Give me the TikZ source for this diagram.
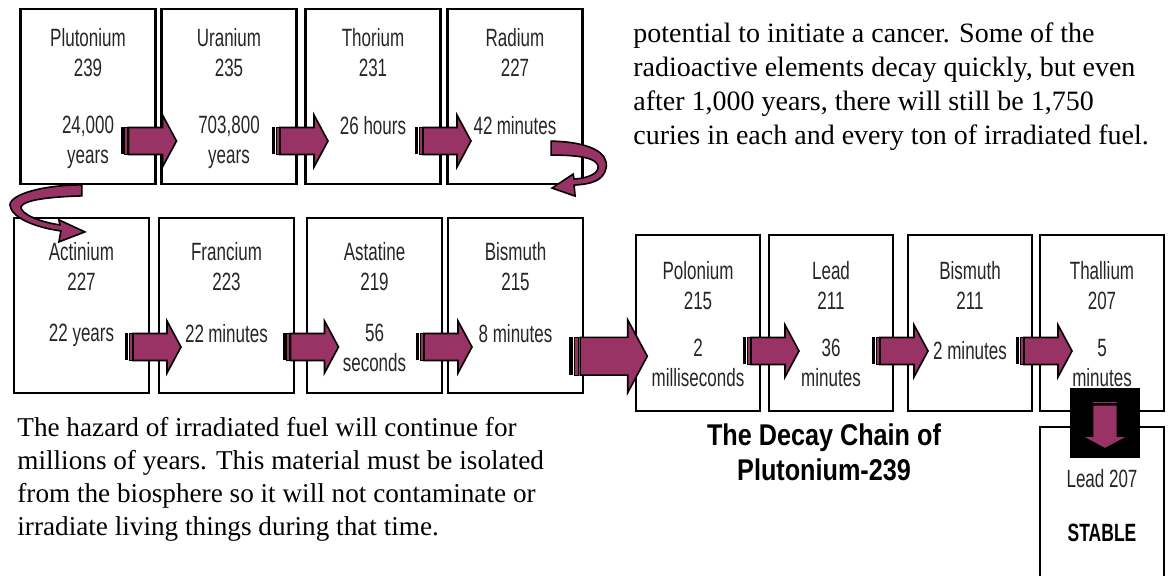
\documentclass[tikz,border=0pt]{standalone}
\usepackage{fontspec}
\setmainfont{Liberation Serif}
\newfontfamily\narrowsans{Liberation Sans}[FakeStretch=0.68]
\newfontfamily\heavysans{Liberation Sans}[FakeStretch=0.84]
\newfontfamily\stablesans{Liberation Sans}[FakeStretch=0.7]
\usepackage{tikz}
\usetikzlibrary{positioning,
calc}
\definecolor{plum}{HTML}{993366}

% block arrow sitting across the gap of two cells
\newcommand\decayhop[4][1]{%
  \pic[scale=#1] at ($(#2.east)!.5!(#3.west)+(#4)$) {hop};}

\begin{document}
\begin{tikzpicture}[
x=0.5pt, y=-0.5pt,
cell/.style={
draw,
line width=1.1pt,
minimum width=67.5pt,
minimum height=87.5pt,
inner sep=0pt
},
pcell/.style={
cell,
minimum width=62pt,
minimum height=88pt
},
elem/.style={
anchor=north,
inner sep=0pt,
align=center,
text=black!85,
font=\narrowsans\fontsize{12.5}{15}\selectfont
},
note/.style={
anchor=north west,
inner sep=0pt,
align=left,
font=\fontsize{14}{17}\selectfont
},
heading/.style={
anchor=north,
inner sep=0pt,
align=center,
font=\heavysans\bfseries\fontsize{15}{17.5}\selectfont
},
curl/.style={fill=plum, draw=black, line width=0.8pt},
hop/.pic={
\fill[black] (-29,-13.5) rectangle (-26,13.5);
\filldraw[fill=plum, draw=black, line width=0.5pt] (-25,-13.5) rectangle (-22,13.5);
\filldraw[fill=plum, draw=black, line width=0.8pt]
  (-21,-13.5) -- (13,-13.5) -- (13,-26) -- (27,0) -- (13,26) -- (13,13.5) -- (-21,13.5) -- cycle;
}
]

\useasboundingbox (0,0) rectangle (1172,576);
\clip (0,0) rectangle (1172,576);

% Top row
\node[cell] (pu) at (88,96.5) {};
\node[cell, right=1.9pt of pu] (u) {};
\node[cell, right=3.4pt of u] (th) {};
\node[cell, right=2.4pt of th] (ra) {};

\node[elem, below=10pt of pu.north] {Plutonium\\239};
\node[elem, below=10pt of u.north] {Uranium\\235};
\node[elem, below=10pt of th.north] {Thorium\\231};
\node[elem, below=10pt of ra.north] {Radium\\227};

\node[elem, below=54pt of pu.north] {24,000\\years};
\node[elem, below=54pt of u.north] {703,800\\years};
\node[elem, below=54pt of th.north] {26 hours};
\node[elem, below=54pt of ra.north] {42\,minutes};

% Bottom row
\node[cell] (ac) at (81.5,305.5) {};
\node[cell, right=3.9pt of ac] (fr) {};
\node[cell, right=5.4pt of fr] (ast) {};
\node[cell, right=1.9pt of ast] (bi) {};

\node[elem, below=12.5pt of ac.north] {Actinium\\227};
\node[elem, below=12.5pt of fr.north] {Francium\\223};
\node[elem, below=12.5pt of ast.north] {Astatine\\219};
\node[elem, below=12.5pt of bi.north] {Bismuth\\215};

\node[elem, below=53.5pt of ac.north] {22 years};
\node[elem, below=53.5pt of fr.north] {22\,minutes};
\node[elem, below=53.5pt of ast.north] {56\\seconds};
\node[elem, below=53.5pt of bi.north] {8 minutes};

% Right row
\node[pcell] (po) at (698,323) {};
\node[pcell, right=3.4pt of po] (pb) {};
\node[pcell, right=6.4pt of pb] (bis) {};
\node[pcell, right=2.9pt of bis] (tl) {};
\node[pcell, below=6.9pt of tl, minimum height=95pt] (lead) {};

\node[elem, below=13.5pt of po.north] {Polonium\\215};
\node[elem, below=13.5pt of pb.north] {Lead\\211};
\node[elem, below=13.5pt of bis.north] {Bismuth\\211};
\node[elem, below=13.5pt of tl.north] {Thallium\\207};

\node[elem, below=52.5pt of po.north] {2\\milliseconds};
\node[elem, below=52.5pt of pb.north] {36\\minutes};
\node[elem, below=53.5pt of bis.north] {2 minutes};
\node[elem, below=52.5pt of tl.north] {5\\minutes};

% Stable end
\node[elem, below=21.5pt of lead.north] {Lead 207};
\node[heading, below=49pt of lead.north,
font=\stablesans\bfseries\fontsize{12.5}{15}\selectfont] {STABLE};
\node[fill=black, minimum size=35pt, inner sep=0pt] (drop) at ($(tl.south)+(3,11)$) {};
\pic[rotate=-90, scale=0.92] at ($(drop.center)+(0,1)$) {hop};

% Connections
\decayhop{pu}{u}{-9,44.5}
\decayhop{u}{th}{0,44.5}
\decayhop{th}{ra}{0,44.5}
\decayhop{ac}{fr}{0,41.5}
\decayhop{fr}{ast}{11,41.5}
\decayhop{ast}{bi}{0,41.5}
\decayhop[1.4]{bi}{po}{0,42}
\decayhop{po}{pb}{7.5,28}
\decayhop{pb}{bis}{0.5,28}
\decayhop{bis}{tl}{9,28}

% Wrap from Radium down to Actinium
\draw[curl, shift={(ra.south east)}]
  (-32.5,-44) .. controls (7.5,-43) and (25.5,-32) .. (22.5,-17)
  .. controls (19.5,-4) and (7.5,-1) .. (-9.5,0) -- (-8.5,11) -- (-31.5,3)
  -- (-10.5,-11) -- (-9.5,-6) .. controls (5.5,-7) and (15.5,-12) .. (14.5,-19)
  .. controls (12.5,-27) and (-2.5,-30) .. (-32.5,-30) -- cycle;
\draw[curl, shift={(ac.north west)}]
  (69,-32) .. controls (31,-32) and (-2,-23) .. (-3,-12)
  .. controls (-2,1) and (24,11) .. (48,14) -- (46,25) -- (72,15) -- (46,3)
  -- (47,8) .. controls (26,5) and (8,-3) .. (8,-10)
  .. controls (11,-17) and (36,-20) .. (69,-21) -- cycle;

% Texts
\node[heading] (title) at (824,423) {The Decay Chain of\\Plutonium-239};
\node[note] (warn) at (633,22) {potential to initiate a cancer. Some of the\\
radioactive elements decay quickly, but even\\
after 1,000 years, there will still be 1,750\\
curies in each and every ton of irradiated fuel.};
\node[note, font=\fontsize{13.6}{16.5}\selectfont] (hazard) at (17,417) {The hazard of irradiated fuel will continue for\\
millions of years. This material must be isolated\\
from the biosphere so it will not contaminate or\\
irradiate living things during that time.};

\end{tikzpicture}
\end{document}
